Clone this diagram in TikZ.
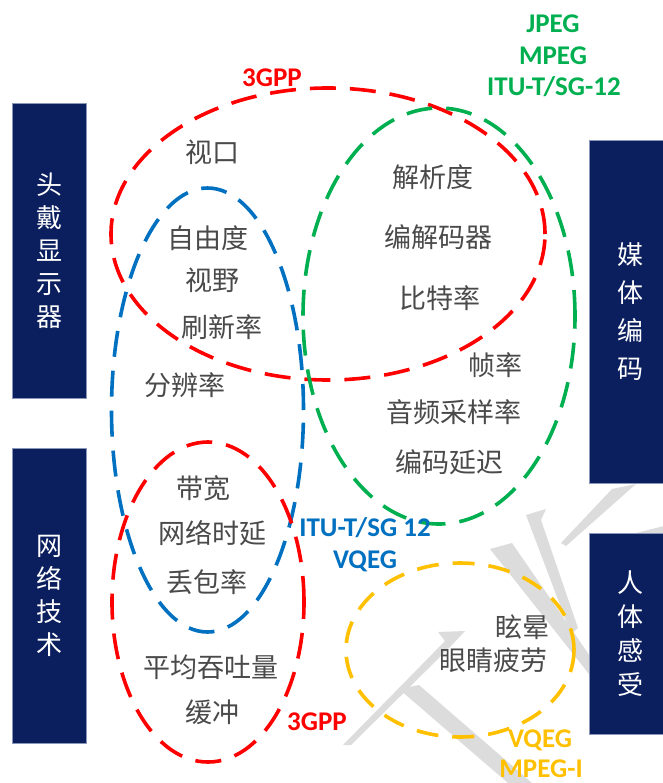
\documentclass[tikz,border=0pt]{standalone}
\usepackage{fontspec}
\usetikzlibrary{shapes.geometric}
\newfontfamily\cjk{Noto Sans CJK SC}
\newfontfamily\lab{Carlito}
\definecolor{navy}{HTML}{0B1F5E}
\definecolor{navyedge}{HTML}{8A96B8}
\definecolor{txtgray}{HTML}{4A4A4A}
\definecolor{cred}{HTML}{FF0000}
\definecolor{cgreen}{HTML}{00B050}
\definecolor{cblue}{HTML}{0070C0}
\definecolor{cyellow}{HTML}{FFC000}
\definecolor{wmgray}{HTML}{DCDCDC}
\tikzset{
  navybox/.style={fill=navy, draw=navyedge, line width=0.6pt, inner sep=0pt,
    text=white, align=center, font=\cjk\fontsize{26}{33}\selectfont},
  item/.style={text=txtgray, font=\cjk\fontsize{27}{32}\selectfont, inner sep=0pt},
  lbl/.style={font=\lab\bfseries\fontsize{27}{32}\selectfont, inner sep=0pt,
    text height=17.5pt, text depth=0pt},
  ring/.style={ellipse, draw, line width=3.6pt, dash pattern=on 26pt off 14pt,
    inner sep=0pt, fill=none},
  wm/.style={fill=wmgray, draw=none}
}
\begin{document}
\begin{tikzpicture}[x=1pt,y=-1pt]
\useasboundingbox (0,0) rectangle (662,783);
\fill[white] (0,0) rectangle (662,783);
% watermark strokes
\fill[wm] (490,549) -- (512,543) -- (594,662) -- (589,674) -- cycle;
\fill[wm] (526,515) -- (546,509) -- (541,520) -- (578,628) -- (571,634) -- cycle;
\fill[wm] (612,489) -- (636,484) -- (566,546) -- (561,543) -- cycle;
\fill[wm] (636,533) -- (664,526) -- (664,535) -- (640,538) -- cycle;
\fill[wm] (343,745) -- (445,641) -- (438,632) -- (465,631) -- (451,646) -- (351,745) -- cycle;
\fill[wm] (399,689) -- (419,685) -- (532,783) -- (508,783) -- cycle;
% boxes
\node[navybox, minimum width=74pt, minimum height=295pt] (hmd) at (49,250.5) {头\\戴\\显\\示\\器};
\node[navybox, minimum width=74pt, minimum height=295pt] (net) at (49,595.5) {网\\络\\技\\术};
\node[navybox, minimum width=82pt, minimum height=343pt, font=\cjk\fontsize{26}{38}\selectfont] (media) at (630,311.5) {媒\\体\\编\\码};
\node[navybox, minimum width=82pt, minimum height=201pt, font=\cjk\fontsize{26}{34}\selectfont] (human) at (630,633.5) {人\\体\\感\\受};
% rings
\node[ring, cred, minimum width=434pt, minimum height=292pt] (gppA) at (328,234) {};
\node[ring, cgreen, minimum width=272pt, minimum height=416pt] (codec) at (439,316) {};
\node[ring, cblue, minimum width=192pt, minimum height=444pt] (itu) at (207.5,410) {};
\node[ring, cred, minimum width=192pt, minimum height=320pt] (gppB) at (208,602) {};
\node[ring, cyellow, minimum width=228pt, minimum height=174pt, dash pattern=on 22pt off 14pt] (vq) at (460,650) {};
% items
\node[item] (t1) at (212,152) {视口};
\node[item] (t2) at (208,238) {自由度};
\node[item] (t3) at (212,280) {视野};
\node[item] (t4) at (222,327) {刷新率};
\node[item] (t5) at (185,385) {分辨率};
\node[item] (t6) at (433,177) {解析度};
\node[item] (t7) at (438,237) {编解码器};
\node[item] (t8) at (440,298) {比特率};
\node[item] (t9) at (495,365) {帧率};
\node[item] (t10) at (454,412) {音频采样率};
\node[item] (t11) at (449,462) {编码延迟};
\node[item] (t12) at (203,488) {带宽};
\node[item] (t13) at (212,533) {网络时延};
\node[item] (t14) at (207,582) {丢包率};
\node[item] (t15) at (211,667) {平均吞吐量};
\node[item] (t16) at (212,712) {缓冲};
\node[item, anchor=east] (t17) at (550,627) {眩晕};
\node[item, anchor=east] (t18) at (548,660) {眼睛疲劳};
% labels
\node[lbl, text=cred] (l1) at (272,78) {3GPP};
\node[lbl, text=cgreen] (l2) at (553,24) {JPEG};
\node[lbl, text=cgreen] (l3) at (553,56) {MPEG};
\node[lbl, text=cgreen] (l4) at (554,87) {ITU-T/SG-12};
\node[lbl, text=cblue] (l5) at (365,528) {ITU-T/SG 12};
\node[lbl, text=cblue] (l6) at (365,560) {VQEG};
\node[lbl, text=cred] (l7) at (317,722) {3GPP};
\node[lbl, text=cyellow] (l8) at (540,739) {VQEG};
\node[lbl, text=cyellow] (l9) at (541,769) {MPEG-I};
\end{tikzpicture}
\end{document}
